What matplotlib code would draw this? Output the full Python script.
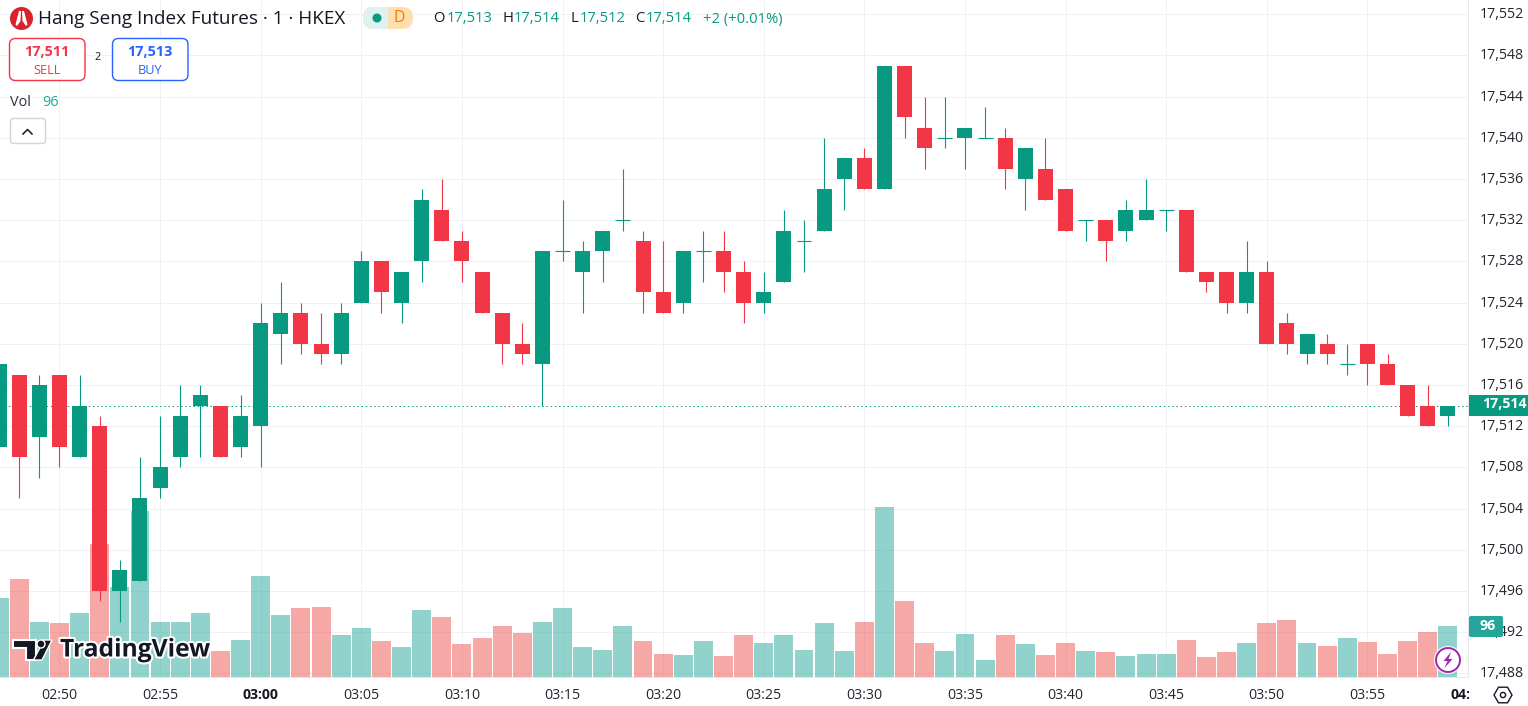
#!/usr/bin/env python3
"""Hang Seng Index Futures 1 minute candles with volume, TradingView look."""

import matplotlib
matplotlib.use("Agg")
import matplotlib.pyplot as plt
from matplotlib.patches import Circle, FancyBboxPatch, Polygon, Rectangle, RegularPolygon
from matplotlib.patheffects import withStroke
from matplotlib.ticker import FuncFormatter
from matplotlib.transforms import Bbox, ScaledTranslation
import numpy as np

# one entry per minute, 02:47 to 03:59
opens = [17510, 17517, 17511, 17517, 17509, 17512, 17496, 17497, 17506, 17509, 17514, 17514, 17510,
         17512, 17521, 17523, 17520, 17519, 17524, 17528, 17524, 17528, 17533, 17530, 17527, 17523, 17520, 17518,
         17529, 17527, 17529, 17532, 17530, 17525, 17524, 17529, 17529, 17527, 17524, 17526, 17530, 17531, 17536,
         17538, 17535, 17547, 17541, 17540, 17540, 17540, 17540, 17536, 17537, 17535, 17532, 17532, 17531, 17532,
         17533, 17533, 17527, 17527, 17524, 17527, 17522, 17519, 17520, 17518, 17520, 17518, 17516, 17514, 17513]
highs = [17518, 17517, 17517, 17517, 17517, 17513, 17499, 17509, 17513, 17516, 17516, 17514, 17515,
         17524, 17526, 17524, 17523, 17524, 17529, 17528, 17527, 17535, 17536, 17531, 17527, 17523, 17522, 17529,
         17534, 17530, 17531, 17537, 17531, 17530, 17529, 17531, 17531, 17528, 17527, 17533, 17532, 17540, 17538,
         17539, 17547, 17547, 17544, 17544, 17541, 17543, 17541, 17539, 17540, 17535, 17532, 17532, 17534, 17536,
         17533, 17533, 17527, 17527, 17530, 17528, 17523, 17521, 17521, 17520, 17520, 17519, 17516, 17516, 17514]
lows = [17510, 17505, 17507, 17508, 17509, 17495, 17493, 17497, 17505, 17508, 17509, 17509, 17509,
        17508, 17518, 17519, 17518, 17518, 17524, 17523, 17522, 17526, 17530, 17526, 17523, 17518, 17518, 17514,
        17528, 17523, 17526, 17531, 17523, 17523, 17523, 17526, 17525, 17522, 17523, 17526, 17527, 17531, 17533,
        17535, 17535, 17540, 17537, 17539, 17537, 17540, 17535, 17533, 17534, 17531, 17530, 17528, 17530, 17532,
        17531, 17527, 17525, 17523, 17523, 17520, 17519, 17518, 17518, 17517, 17516, 17516, 17513, 17512, 17512]
closes = [17518, 17509, 17516, 17510, 17514, 17496, 17498, 17505, 17508, 17513, 17515, 17509, 17513,
          17522, 17523, 17520, 17519, 17523, 17528, 17525, 17527, 17534, 17530, 17528, 17523, 17520, 17519, 17529,
          17529, 17529, 17531, 17532, 17525, 17523, 17529, 17529, 17527, 17524, 17525, 17531, 17530, 17535, 17538,
          17535, 17547, 17542, 17539, 17540, 17541, 17540, 17537, 17539, 17534, 17531, 17532, 17530, 17533, 17533,
          17533, 17527, 17526, 17524, 17527, 17520, 17520, 17521, 17519, 17518, 17518, 17516, 17513, 17512, 17514]
volumes = [149, 185, 105, 102, 122, 251, 170, 314, 104, 104, 121, 49, 71,
           191, 117, 130, 132, 79, 92, 68, 56, 126, 113, 62, 73, 96, 83, 105,
           130, 56, 52, 96, 68, 43, 41, 68, 39, 79, 64, 79, 52, 102, 50,
           105, 321, 143, 64, 50, 81, 33, 79, 62, 41, 64, 49, 47, 39, 43,
           43, 71, 37, 47, 64, 102, 107, 64, 58, 73, 66, 43, 69, 85, 96]

price_ticks = list(range(17488, 17553, 4))
time_labels = ["02:50", "02:55", "03:00", "03:05", "03:10", "03:15", "03:20", "03:25",
               "03:30", "03:35", "03:40", "03:45", "03:50", "03:55", "04:00"]
bold_times = ["03:00", "04:00"]
last_price = closes[-1]

GREEN = "#089981"
RED = "#f23645"
VOL_GREEN = "#26a69a"
VOL_RED = "#ef5350"
INK = "#131722"
GRID = "#f0f1f4"
BORDER = "#e6e8ee"

W, H = 1528, 706
PANE_W, PANE_H = 1468, 677

plt.rcParams["font.family"] = ["Open Sans", "DejaVu Sans"]

fig = plt.figure(figsize=(W / 100, H / 100), dpi=100, facecolor="white")
rect = [0, 1 - PANE_H / H, PANE_W / W, PANE_H / H]

# price scale and grid at the bottom, then volume, then candles on top
ax = fig.add_axes(rect, zorder=1)
ax_vol = fig.add_axes(rect, zorder=2, sharex=ax)
ax_candle = fig.add_axes(rect, zorder=3, sharex=ax, sharey=ax)

minutes = np.arange(len(opens))
up = np.array(closes) >= np.array(opens)

ax.set_xlim(0.043, 73.0)
ax.set_ylim(17487.66, 17553.38)
ax.yaxis.tick_right()
ax.set_yticks(price_ticks)
ax.yaxis.set_major_formatter(FuncFormatter(lambda v, _: f"{int(v):,}"))
ax.set_xticks(np.arange(len(time_labels)) * 5 + 3)
ax.set_xticklabels(time_labels)
ax.grid(True, color=GRID, lw=0.72)
ax.set_axisbelow(True)
ax.tick_params(axis="y", length=0, pad=8.7, labelsize=10.2, labelcolor="#23262f")
ax.tick_params(axis="x", length=0, pad=8, labelsize=10.2, labelcolor="#23262f")
for spine in ("top", "left"):
    ax.spines[spine].set_visible(False)
for spine in ("right", "bottom"):
    ax.spines[spine].set_color(BORDER)
    ax.spines[spine].set_linewidth(0.72)
for tick_label in ax.get_yticklabels():
    # labels sit a little above their grid lines
    tick_label.set_transform(tick_label.get_transform() + ScaledTranslation(0, 1.5 / 100, fig.dpi_scale_trans))
for tick_label in ax.get_xticklabels():
    if tick_label.get_text() in bold_times:
        tick_label.set_fontweight("bold")
        tick_label.set_color(INK)
    # the last time label runs under the price scale
    tick_label.set_clip_box(Bbox([[0, 0], [PANE_W + 1, H]]))
    tick_label.set_clip_on(True)

vol_colors = [VOL_GREEN if u else VOL_RED for u in up]
ax_vol.bar(minutes, volumes, width=0.94, color=vol_colors, alpha=0.5, lw=0)
ax_vol.set_ylim(0, PANE_H * 96 / 50.7)
ax_vol.axis("off")

ax_candle.axis("off")
ax_candle.axhline(last_price, color=GREEN, lw=0.72, ls=(0, (1.4, 2.8)), zorder=1, snap=True)
candle_colors = [GREEN if u else RED for u in up]
ax_candle.vlines(minutes, lows, highs, colors=candle_colors, lw=0.8, zorder=2)
bottoms = np.minimum(opens, closes)
heights = np.abs(np.array(closes) - np.array(opens))
ax_candle.bar(minutes, heights, bottom=bottoms, width=0.745, color=candle_colors, lw=0, zorder=3)
flat = heights == 0
ax_candle.hlines(np.array(opens)[flat], minutes[flat] - 0.37, minutes[flat] + 0.37,
                 colors=np.array(candle_colors)[flat], lw=0.8, zorder=3)

# legend, badges and watermark sit on a pixel canvas over the chart
ui = fig.add_axes([0, 0, 1, 1], zorder=5)
ui.set_xlim(0, W)
ui.set_ylim(H, 0)
ui.axis("off")


def label(x, y, s, size=9.5, color=INK, ha="left", weight="normal"):
    return ui.text(x, y, s, fontsize=size, color=color, ha=ha, va="center", fontweight=weight)


def rounded(x0, y0, x1, y1, radius, face, edge="none", lw=1.0):
    ui.add_patch(FancyBboxPatch((x0, y0), x1 - x0, y1 - y0, boxstyle=f"round,pad=0,rounding_size={radius}",
                                fc=face, ec=edge, lw=lw))


# symbol logo and title
ui.add_patch(Circle((21.5, 18.5), 11.5, fc="#d8232a", ec="none"))
ui.add_patch(Polygon([(19, 11), (21, 11), (20.5, 21), (17, 26), (15.5, 24.5)], fc="white", ec="none"))
ui.add_patch(Polygon([(22, 11), (24, 11), (27.5, 24.5), (26, 26), (22.5, 21)], fc="white", ec="none"))
label(38, 19, "Hang Seng Index Futures · 1 · HKEX", size=13.6)

# market status badge
rounded(363, 7, 413, 29, 10.5, "#ffdfb0")
ui.add_patch(Rectangle((374, 7), 14, 22, fc="#dff2ef", ec="none"))
ui.add_patch(FancyBboxPatch((363, 7), 20, 22, boxstyle="round,pad=0,rounding_size=10.5", fc="#dff2ef", ec="none"))
ui.add_patch(Circle((377, 18), 4.5, fc=GREEN, ec="none"))
label(399, 18, "D", size=11.5, color="#f57c00", ha="center")

# OHLC readout
ohlc_keys = [(433, "O"), (502, "H"), (570, "L"), (635, "C")]
ohlc_values = [(447, "17,513"), (514, "17,514"), (580, "17,512"), (646, "17,514")]
for x, s in ohlc_keys:
    label(x, 19, s, size=10.6)
for x, s in ohlc_values:
    label(x, 19, s, size=10.6, color=GREEN)
label(703, 19, "+2 (+0.01%)", size=10.6, color=GREEN)

# sell and buy boxes
rounded(9.5, 38.5, 85, 80.5, 6, "white", RED)
label(47, 52, "17,511", size=10.4, color=RED, ha="center", weight="bold")
label(47, 70, "SELL", size=9.2, color=RED, ha="center")
label(98, 58, "2", size=7.8, ha="center")
rounded(112.5, 38.5, 188, 80.5, 6, "white", "#2962ff")
label(150, 52, "17,513", size=10.4, color="#2962ff", ha="center", weight="bold")
label(150, 70, "BUY", size=9.2, color="#2962ff", ha="center")

# volume legend
label(10, 102, "Vol", size=10.4, color="#2a2e39")
label(42, 102, "96", size=10.4, color=VOL_GREEN)
rounded(10.5, 118.5, 45.5, 143.5, 3, "white", "#d1d4dc")
ui.plot([23, 27.5, 32], [134, 129.5, 134], color=INK, lw=1.1)

# last price and last volume tags
ui.add_patch(Rectangle((1469, 395), 59, 21, fc=GREEN, ec="none"))
label(1504, 404.5, "17,514", size=10.2, color="white", ha="center", weight="bold")
rounded(1469, 616, 1503, 637, 2, VOL_GREEN)
label(1488, 626.5, "96", size=10.2, color="white", ha="center", weight="bold")

# TradingView watermark
halo = [withStroke(linewidth=3, foreground="white")]
logo_t = Polygon([(13, 640), (36, 640), (36, 660), (26, 660), (26, 648), (13, 648)], fc=INK, ec="white", lw=1.5)
logo_dot = Circle((41, 644), 4, fc=INK, ec="white", lw=1.0)
logo_bar = Polygon([(44, 640), (52, 640), (42, 660), (33.5, 660)], fc=INK, ec="white", lw=1.0)
for part in (logo_t, logo_bar, logo_dot):
    ui.add_patch(part)
mark = label(60, 650, "TradingView", size=17.7, weight="bold")
mark.set_path_effects(halo)

# lightning badge and settings hexagon
ui.add_patch(Circle((1448, 660), 14, fc="white", ec="none"))
ui.add_patch(Circle((1448, 660), 12, fc="white", ec="#9c27b0", lw=1.4))
ui.add_patch(Polygon([(1451, 652), (1443.5, 661), (1447.5, 661), (1444.5, 668), (1452.5, 659), (1448.5, 659)],
                     fc="#9c27b0", ec="none"))
ui.add_patch(RegularPolygon((1503, 695), 6, radius=9, orientation=np.pi / 2, fc="white", ec=INK, lw=1.0))
ui.add_patch(Circle((1503, 695), 2.6, fc="white", ec=INK, lw=1.0))

fig.savefig("out.png", dpi=100, facecolor="white")
